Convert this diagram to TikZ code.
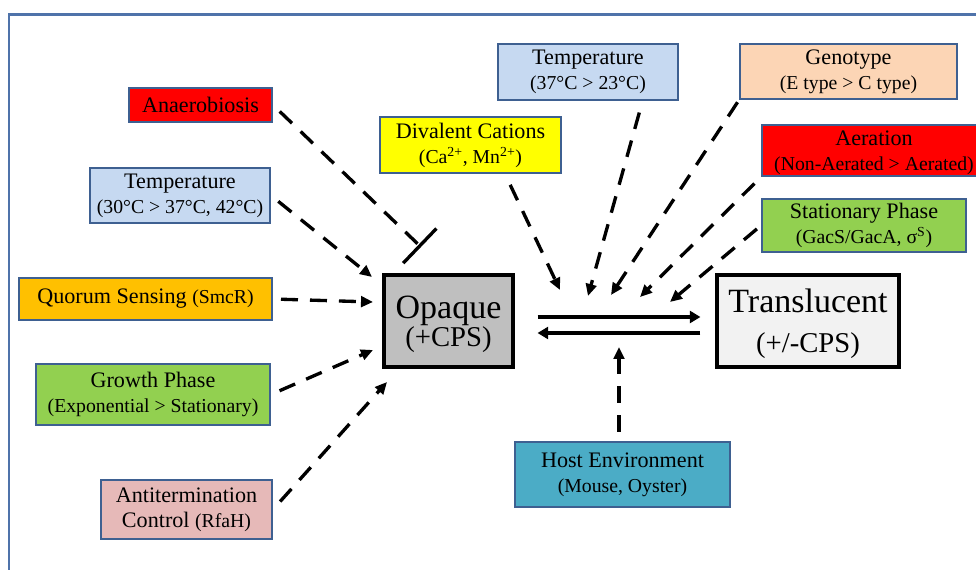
\documentclass[tikz,border=0pt]{standalone}
\usepackage{fontspec}
\setmainfont{Liberation Serif}
\usetikzlibrary{
  arrows.meta,
  calc
}
\definecolor{boxline}{RGB}{62,96,145}
\definecolor{framecol}{RGB}{79,115,170}
\definecolor{alarmred}{RGB}{255,0,0}
\definecolor{paleblue}{RGB}{198,217,241}
\definecolor{amber}{RGB}{255,192,0}
\definecolor{leafgreen}{RGB}{146,208,80}
\definecolor{rosepink}{RGB}{230,185,184}
\definecolor{lemon}{RGB}{255,255,0}
\definecolor{peach}{RGB}{252,213,181}
\definecolor{hostteal}{RGB}{75,172,198}
\definecolor{opaquegray}{RGB}{191,191,191}
\definecolor{cleargray}{RGB}{242,242,242}
\newcommand{\subtxt}{\fontsize{14.8}{18.75}\selectfont}
\tikzset{
  boxsize/.style 2 args={minimum width=#1*0.75pt,minimum height=#2*0.75pt},
  factor/.style={
    draw=boxline,
    line width=1.5pt,
    align=center,
    inner sep=0pt,
    font=\fontsize{16.6}{18.75}\selectfont
  },
  state/.style={
    draw=black,
    line width=2.3pt,
    align=center,
    inner sep=0pt,
    text depth=-2pt
  },
  influence/.style={-{Triangle[length=9pt,width=8pt]},line width=2.5pt,dash pattern=on 12.75pt off 9pt},
  repress/.style={-{Bar[width=36pt]},line width=2.5pt,dash pattern=on 12.75pt off 9pt},
  switch/.style={-{Triangle[length=8pt,width=9pt]},line width=2.5pt}
}

\begin{document}
\begin{tikzpicture}[x=0.75pt,y=-0.75pt]
  \useasboundingbox (0,0) rectangle (976,570);
  \draw[framecol,line width=1.6pt] (976,14.5) -- (9,14.5) -- (9,570);

  % left-hand factors
  \node[factor,fill=alarmred,boxsize={143}{34}] (anaer) at (200.5,105) {Anaerobiosis};
  \node[factor,fill=paleblue,boxsize={180}{55}] (templo) at (180,195.5)
    {Temperature\\{\subtxt(30°C > 37°C, 42°C)}};
  \node[factor,fill=amber,boxsize={253}{42}] (quorum) at (145.5,299)
    {Quorum Sensing {\subtxt(SmcR)}};
  \node[factor,fill=leafgreen,boxsize={234}{61}] (growth) at (153,394.5)
    {Growth Phase\\{\subtxt(Exponential > Stationary)}};
  \node[factor,fill=rosepink,boxsize={171}{59}] (antiterm) at (186.5,509.5)
    {Antitermination\\Control {\subtxt(RfaH)}};

  % upper factors
  \node[factor,fill=lemon,boxsize={181}{56}] (divalent) at (470.5,145)
    {Divalent Cations\\{\subtxt(Ca\textsuperscript{2+}, Mn\textsuperscript{2+})}};
  \node[factor,fill=paleblue,boxsize={180}{56}] (temphi) at (588,72)
    {Temperature\\{\subtxt(37°C > 23°C)}};
  \node[factor,fill=peach,boxsize={217}{55}] (genotype) at (848.5,71.5)
    {Genotype\\{\subtxt(E type > C type)}};
  \node[factor,fill=alarmred,boxsize={224}{51},text depth=-7pt] (aeration) at (874,150.5)
    {Aeration\\{\subtxt(Non-Aerated > Aerated)}};
  \node[factor,fill=leafgreen,boxsize={204}{53}] (stationary) at (864,225.5)
    {Stationary Phase\\{\subtxt(GacS/GacA, σ\textsuperscript{S})}};
  \node[factor,fill=hostteal,boxsize={215}{65}] (host) at (622.5,474.5)
    {Host Environment\\{\subtxt(Mouse, Oyster)}};

  % the two phase states
  \node[state,fill=opaquegray,boxsize={129}{92},font=\fontsize{25.5}{21}\selectfont] (opaque) at (448.5,321)
    {Opaque\\{\fontsize{21.5}{21}\selectfont(+CPS)}};
  \node[state,fill=cleargray,boxsize={182}{92},font=\fontsize{25.5}{30}\selectfont] (transl) at (808,321)
    {Translucent\\{\fontsize{21.5}{30}\selectfont(+/-CPS)}};

  % arrow ends
  \coordinate (anaer-end) at (421,247);
  \coordinate (templo-end) at (372,277);
  \coordinate (quorum-end) at (373,302);
  \coordinate (growth-end) at (373,350);
  \coordinate (antiterm-end) at (387,382);
  \coordinate (divalent-end) at (560,290);
  \coordinate (temphi-end) at (588,296);
  \coordinate (genotype-end) at (611,295);
  \coordinate (aeration-end) at (640,297);
  \coordinate (stationary-end) at (670,302);
  \coordinate (host-end) at (619,347);

  \draw[repress,shorten <=7pt] (anaer.east) -- (anaer-end);
  \draw[influence,shorten <=7pt] (templo.east) -- (templo-end);
  \draw[influence,shorten <=6pt] (quorum.east) -- (quorum-end);
  \draw[influence,shorten <=7pt] (growth.east) -- (growth-end);
  \draw[influence,shorten <=8pt] (antiterm.east) -- (antiterm-end);

  \draw[influence,shorten <=9pt] (divalent.-40) -- (divalent-end);
  \draw[influence,shorten <=9pt] (temphi.-28) -- (temphi-end);
  \draw[influence,shorten <=2pt] (genotype.south west) -- (genotype-end);
  \draw[influence,shorten <=7pt] (aeration.south west) -- (aeration-end);
  \draw[influence,shorten <=4pt] (stationary.west) -- (stationary-end);
  \draw[influence,shorten <=7pt] (host.north -| host-end) -- (host-end);

  \draw[switch] ([shift={(23,-4)}]opaque.east) -- ([shift={(-15,-4)}]transl.west);
  \draw[switch] ([shift={(-15,12)}]transl.west) -- ([shift={(23,12)}]opaque.east);
\end{tikzpicture}
\end{document}
